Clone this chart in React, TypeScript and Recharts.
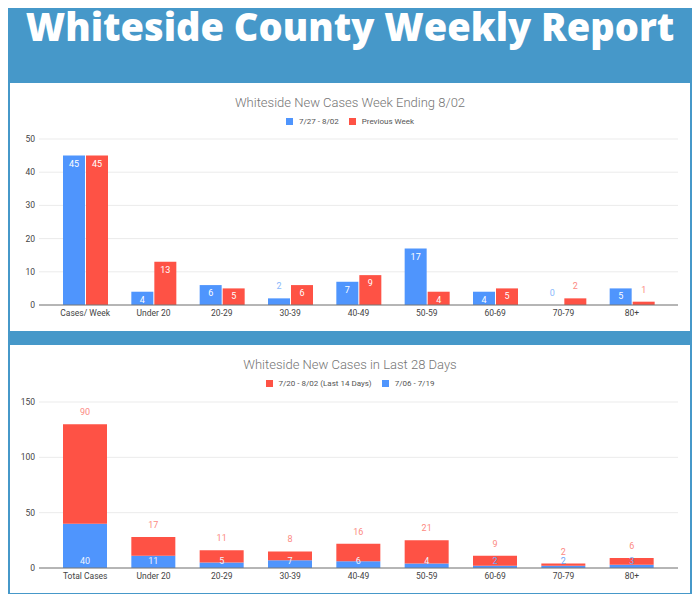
import { BarChart, Bar, XAxis, YAxis, CartesianGrid, LabelList } from "recharts";

const BLUE = "#4f95fd";
const RED = "#fe5245";
const LIGHT_BLUE = "#8ab8fb";
const LIGHT_RED = "#fc8a83";

// weekly comparison
const weekCategories = ["Cases/ Week", "Under 20", "20-29", "30-39", "40-49", "50-59", "60-69", "70-79", "80+"];
const currentWeek = [45, 4, 6, 2, 7, 17, 4, 0, 5];
const previousWeek = [45, 13, 5, 6, 9, 4, 5, 2, 1];
const weekTicks = [0, 10, 20, 30, 40, 50];

// last 28 days, stacked
const monthCategories = ["Total Cases", "Under 20", "20-29", "30-39", "40-49", "50-59", "60-69", "70-79", "80+"];
const last14Days = [90, 17, 11, 8, 16, 21, 9, 2, 6];
const prior14Days = [40, 11, 5, 7, 6, 4, 2, 2, 3];
const monthTicks = [0, 50, 100, 150];

const weekData = weekCategories.map((name, i) => ({
  name,
  current: currentWeek[i],
  previous: previousWeek[i],
}));

const monthData = monthCategories.map((name, i) => ({
  name,
  last14: last14Days[i],
  prior14: prior14Days[i],
}));

const FONT = "Roboto, Arial, sans-serif";
const tick = { fontSize: 8.5, fill: "#444", fontFamily: FONT };

function box(props: any) {
  const vb = props.viewBox || props;
  return { x: Number(vb.x), y: Number(vb.y), width: Number(vb.width), height: Number(vb.height) };
}

// zero-valued bars still need their label, so keep a hairline rect for them
const keepZero = (value: any) => (Number(value) === 0 ? 0.01 : 0);

// inside the top of the bar when it fits, above it otherwise
const weekLabel = (light: string) => (props: any) => {
  const { x, y, width, height } = box(props);
  const inside = height >= 12;
  return (
    <text
      x={x + width / 2}
      y={inside ? y + 8 : y - 12}
      textAnchor="middle"
      dominantBaseline="central"
      fontSize={9}
      fontFamily={FONT}
      fill={inside ? "#fff" : light}
    >
      {props.value}
    </text>
  );
};

const totalLabel = (props: any) => {
  const { x, y, width } = box(props);
  return (
    <text x={x + width / 2} y={y - 12} textAnchor="middle" dominantBaseline="central" fontSize={9} fontFamily={FONT} fill={LIGHT_RED}>
      {props.value}
    </text>
  );
};

const baseLabel = (props: any) => {
  const { x, y, width, height } = box(props);
  return (
    <text
      x={x + width / 2}
      y={y + height - 7}
      textAnchor="middle"
      dominantBaseline="central"
      fontSize={9}
      fontFamily={FONT}
      fill={Number(props.value) >= 4 ? "#eef4ff" : "#6fa6f8"}
    >
      {props.value}
    </text>
  );
};

function LegendRow({ items }: { items: { label: string; color: string }[] }) {
  return (
    <div style={{ display: "flex", justifyContent: "center", alignItems: "center", fontFamily: FONT, fontSize: 8, color: "#555" }}>
      {items.map((it, i) => (
        <div key={it.label} style={{ display: "flex", alignItems: "center", marginLeft: i > 0 ? 10 : 0 }}>
          <span style={{ width: 7, height: 7, background: it.color, marginRight: 6, display: "inline-block" }} />
          <span>{it.label}</span>
        </div>
      ))}
    </div>
  );
}

function Panel({ top, title, legend, children }: { top: number; title: string; legend: { label: string; color: string }[]; children: any }) {
  return (
    <div style={{ position: "absolute", left: 10, top, width: 680, height: 248, background: "#fff" }}>
      {children}
      <div style={{ position: "absolute", left: 0, right: 0, top: 11, textAlign: "center", fontFamily: FONT, fontWeight: 300, fontSize: 13, color: "#757575", lineHeight: "18px" }}>
        {title}
      </div>
      <div style={{ position: "absolute", left: 0, right: 0, top: 34, height: 12 }}>
        <LegendRow items={legend} />
      </div>
    </div>
  );
}

export default function App() {
  return (
    <div style={{ margin: -8, width: 700, height: 602, background: "#4698c9", position: "relative", overflow: "hidden" }}>
      <div
        style={{
          position: "absolute",
          left: 0,
          right: 0,
          top: 0,
          textAlign: "center",
          fontFamily: "'Open Sans', sans-serif",
          fontWeight: 800,
          fontSize: 38,
          color: "#fff",
          whiteSpace: "nowrap",
        }}
      >
        Whiteside County Weekly Report
      </div>

      <Panel
        top={83}
        title="Whiteside New Cases Week Ending 8/02"
        legend={[
          { label: "7/27 - 8/02", color: BLUE },
          { label: "Previous Week", color: RED },
        ]}
      >
        <BarChart width={680} height={248} data={weekData} margin={{ top: 56, right: 12, bottom: 0, left: 0 }} barCategoryGap={12} barGap={1}>
          <CartesianGrid vertical={false} stroke="#ebebeb" />
          <XAxis dataKey="name" interval={0} tick={tick} tickLine={false} tickSize={4} tickMargin={1} height={26} padding={{ left: 12, right: 12 }} axisLine={{ stroke: "#777" }} />
          <YAxis domain={[0, 50]} ticks={weekTicks} tick={tick} width={29} axisLine={false} tickLine={false} tickSize={4} tickMargin={0} />
          <Bar dataKey="current" fill={BLUE} minPointSize={keepZero} isAnimationActive={false}>
            <LabelList dataKey="current" content={weekLabel(LIGHT_BLUE)} />
          </Bar>
          <Bar dataKey="previous" fill={RED} minPointSize={keepZero} isAnimationActive={false}>
            <LabelList dataKey="previous" content={weekLabel(LIGHT_RED)} />
          </Bar>
        </BarChart>
      </Panel>

      <Panel
        top={345}
        title="Whiteside New Cases in Last 28 Days"
        legend={[
          { label: "7/20 - 8/02 (Last 14 Days)", color: RED },
          { label: "7/06 - 7/19", color: BLUE },
        ]}
      >
        <BarChart width={680} height={248} data={monthData} margin={{ top: 57, right: 12, bottom: 0, left: 0 }} barCategoryGap={12}>
          <CartesianGrid vertical={false} stroke="#ebebeb" />
          <XAxis dataKey="name" interval={0} tick={tick} tickLine={false} tickSize={4} tickMargin={1} height={25} padding={{ left: 12, right: 12 }} axisLine={{ stroke: "#777" }} />
          <YAxis domain={[0, 150]} ticks={monthTicks} tick={tick} width={29} axisLine={false} tickLine={false} tickSize={4} tickMargin={0} />
          <Bar dataKey="prior14" stackId="days" fill={BLUE} isAnimationActive={false}>
            <LabelList dataKey="prior14" content={baseLabel} />
          </Bar>
          <Bar dataKey="last14" stackId="days" fill={RED} isAnimationActive={false}>
            <LabelList dataKey="last14" content={totalLabel} />
          </Bar>
        </BarChart>
      </Panel>
    </div>
  );
}
